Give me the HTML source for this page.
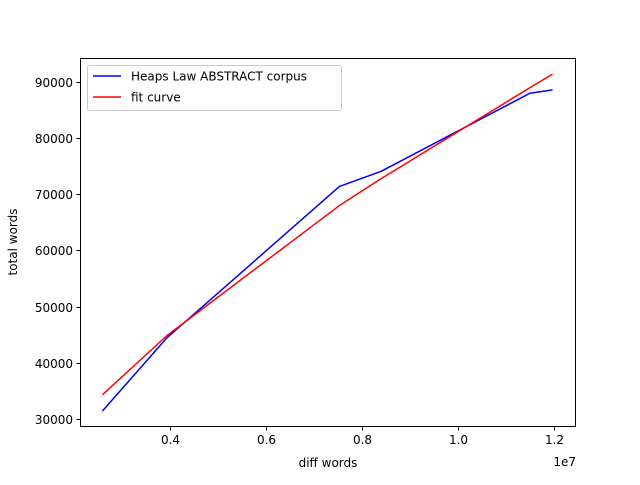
<!DOCTYPE html>
<html><head><meta charset="utf-8"><style>
html,body{margin:0;padding:0;background:#fff;}
svg text{font-family:"DejaVu Sans","Liberation Sans",sans-serif;font-size:12px;fill:#000;}
</style></head><body>
<svg id="chart" width="640" height="480" xmlns="http://www.w3.org/2000/svg">
<rect width="640" height="480" fill="#fff"/>
<g id="plot"></g>
</svg>
<script>
const xData = [2590000, 3930000, 7530000, 8400000, 11500000, 11970000];
const yActual = [31400, 44400, 71400, 74100, 88000, 88600];
const yFit = [34300, 44800, 68000, 72800, 89000, 91400];
const xTicks = [4000000, 6000000, 8000000, 10000000, 12000000];
const xTickLabels = ["0.4", "0.6", "0.8", "1.0", "1.2"];
const yTicks = [30000, 40000, 50000, 60000, 70000, 80000, 90000];
const yTickLabels = ["30000", "40000", "50000", "60000", "70000", "80000", "90000"];

const L=80,R=576,T=58,B=427;
const xMin=2125000,xMax=12458000,yMin=28576,yMax=94270;
const sx=v=>L+(v-xMin)/(xMax-xMin)*(R-L);
const sy=v=>B-(v-yMin)/(yMax-yMin)*(B-T);
const NS="http://www.w3.org/2000/svg";
const g=document.getElementById('plot');
function mk(tag,attrs,parent){const e=document.createElementNS(NS,tag);for(const k in attrs)e.setAttribute(k,attrs[k]);(parent||g).appendChild(e);return e;}

function series(ys,color,name){
  const p=mk('polyline',{points:xData.map((x,i)=>sx(x)+','+sy(ys[i])).join(' '),fill:'none',stroke:color,'stroke-width':1.5,'stroke-linejoin':'round'});
  
  
}
series(yActual,'#0000ff','heaps-law-line');
series(yFit,'#ff0000','fit-curve-line');

const frame=mk('rect',{x:L+0.5,y:T+0.5,width:R-L-1,height:B-T-1,fill:'none',stroke:'#000','stroke-width':1});



xTicks.forEach((v,i)=>{
  const x=Math.round(sx(v))+0.5;
  const t=mk('line',{x1:x,x2:x,y1:B,y2:B+3.5,stroke:'#000','stroke-width':1});
  
  
  const l=mk('text',{x:x,y:B+17,'text-anchor':'middle'});
  l.textContent=xTickLabels[i];
  
  
});
yTicks.forEach((v,i)=>{
  const y=Math.round(sy(v))+0.5;
  const t=mk('line',{x1:L-3.5,x2:L,y1:y,y2:y,stroke:'#000','stroke-width':1});
  
  
  const l=mk('text',{x:L-7,y:y+4.5,'text-anchor':'end'});
  l.textContent=yTickLabels[i];
  
  
});
</script>
<svg width="640" height="480" style="position:absolute;left:0;top:0" xmlns="http://www.w3.org/2000/svg">
<text x="328" y="467" text-anchor="middle">diff words</text>
<text x="576" y="466" text-anchor="end">1e7</text>
<text transform="translate(17,242) rotate(-90)" text-anchor="middle">total words</text>
<g>
<rect x="87.5" y="65.5" width="254" height="45" rx="2" fill="#fff" fill-opacity="0.8" stroke="#ccc" stroke-width="1"/>
<line x1="93" x2="121" y1="76" y2="76" stroke="#0000ff" stroke-width="1.5"/>
<text x="131" y="80.5">Heaps Law ABSTRACT corpus</text>
<line x1="93" x2="121" y1="97" y2="97" stroke="#ff0000" stroke-width="1.5"/>
<text x="131" y="101.5">fit curve</text>
</g>
</svg>
</body></html>
